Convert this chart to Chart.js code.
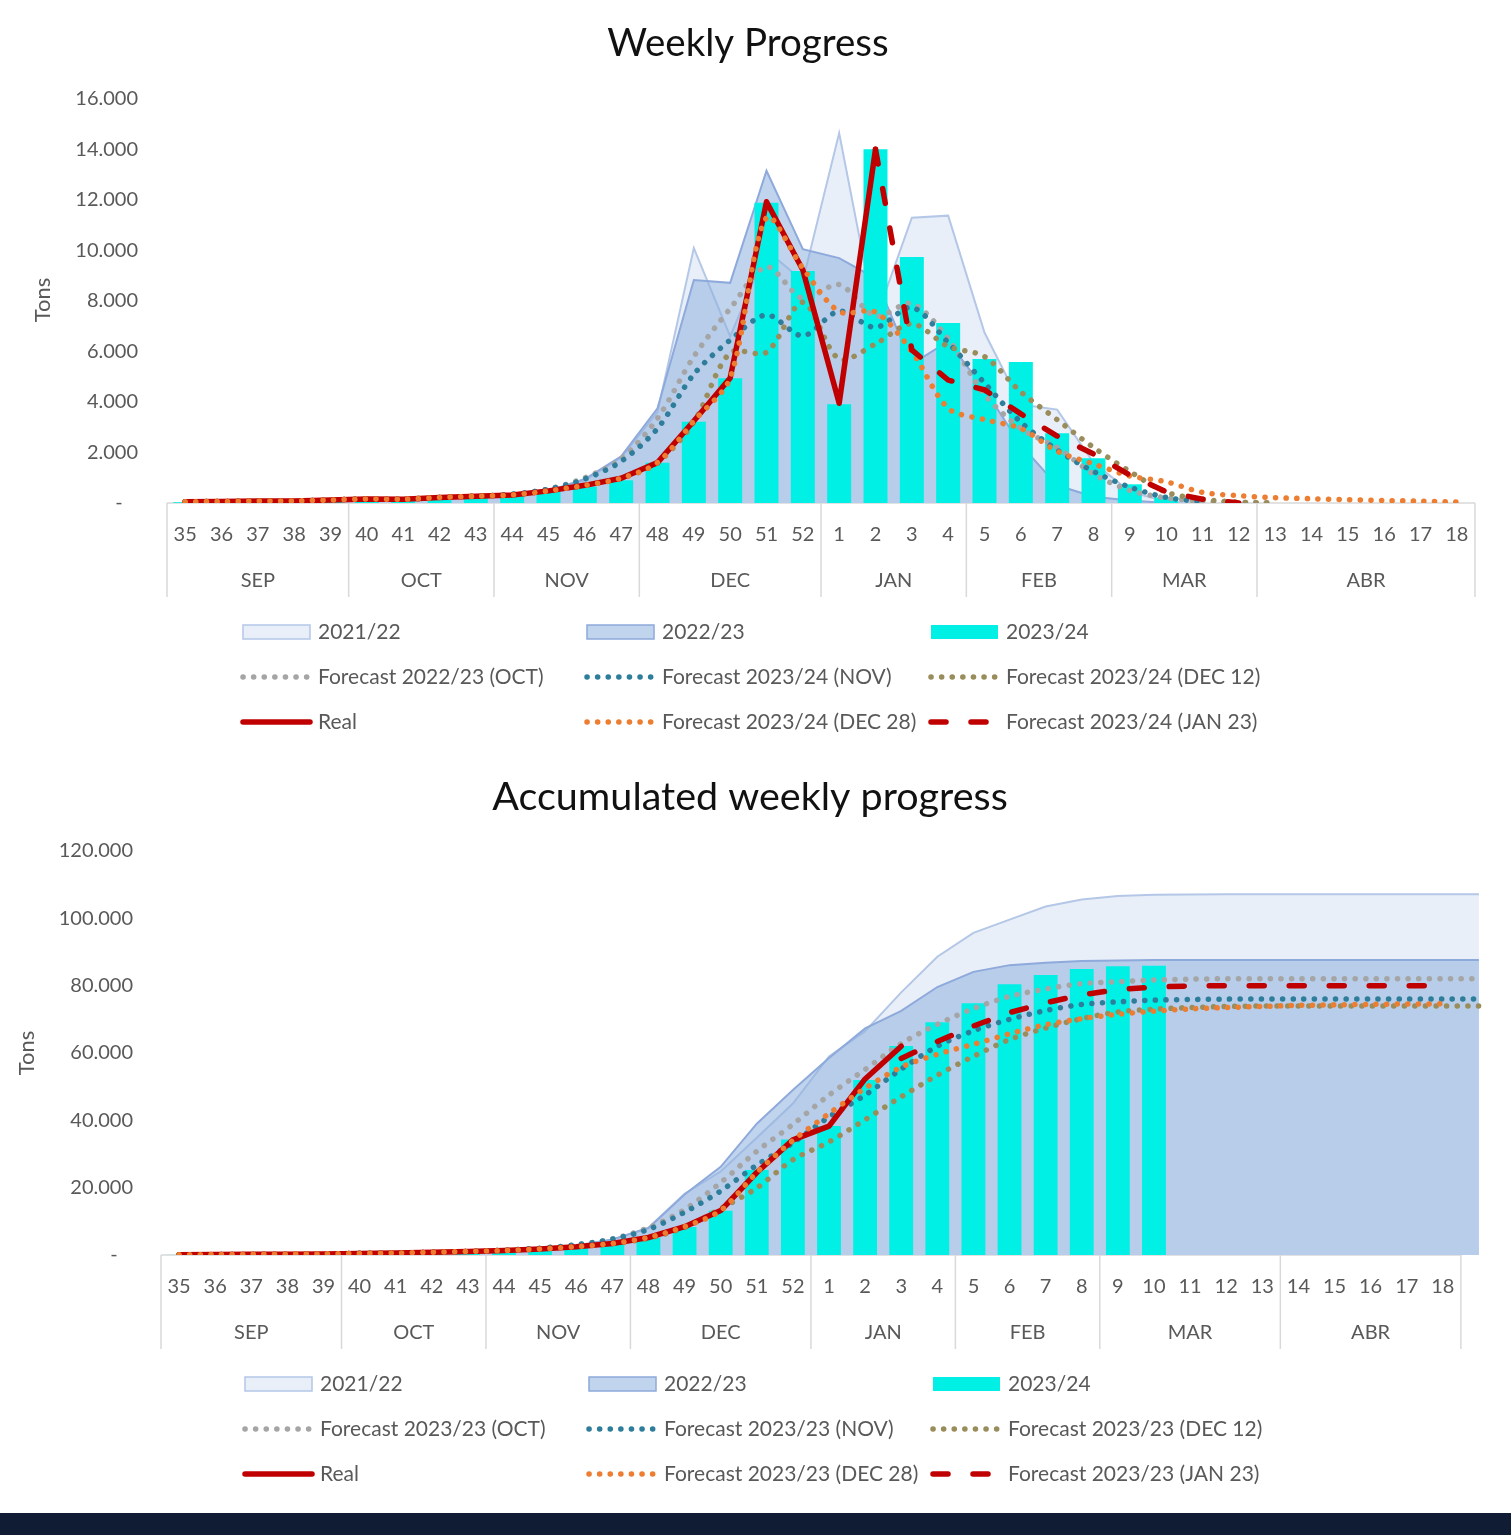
<!DOCTYPE html>
<html>
<head>
<meta charset="utf-8">
<title>Weekly Progress</title>
<script src="https://cdn.jsdelivr.net/npm/chart.js@4.4.1/dist/chart.umd.min.js"></script>
<style>
  html, body { margin: 0; padding: 0; background: #fff; }
  #wrap { position: relative; width: 1511px; height: 1535px; overflow: hidden; }
  canvas { position: absolute; left: 0; }
  #weekly { top: 0; }
  #accumulated { top: 750px; }
  #footer { position: absolute; left: 0; top: 1513px; width: 1511px; height: 22px; background: #0f1c33; }
</style>
</head>
<body>
<div id="wrap">
  <canvas id="weekly" width="1511" height="750"></canvas>
  <canvas id="accumulated" width="1511" height="763"></canvas>
  <div id="footer"></div>
</div>
<script>
// ---- Categories ----
const weeks = ["35","36","37","38","39","40","41","42","43","44","45","46","47","48","49","50","51","52",
               "1","2","3","4","5","6","7","8","9","10","11","12","13","14","15","16","17","18"];
const weeksAccum = weeks.concat([""]); // the areas run one step past week 18
const monthNames = ["SEP", "OCT", "NOV", "DEC", "JAN", "FEB", "MAR", "ABR"];
const monthWeeksTop = [5, 4, 4, 5, 4, 4, 4, 6];
const monthWeeksBottom = [5, 4, 4, 5, 4, 4, 5, 5];

// ---- Weekly progress (tons per week) ----
const weekly2122 = [30,50,60,60,90,130,130,180,250, 300,480,900,1800, 3600,10100,6600,10000,8800,
                    14650,7250,11300,11380, 6750,3900,3700,1600, 450,50,0,null, null,null,null,null,null,null];
const weekly2223 = [40,50,60,60,100,130,140,200,260, 320,480,950,1850, 3750,8830,8720,13160,10050,
                    9700,8900,5500,6400, 4500,2300,700,250, 100,0,null,null, null,null,null,null,null,null];
const weekly2324 = [30,50,60,50,90,140,120,200,250, 300,450,650,900, 1590,3220,4940,11890,9190,
                    3910,14010,9740,7130, 5700,5580,2760,1770, 740,225,null,null, null,null,null,null,null,null];
const weeklyOct = [50,60,80,80,120,160,150,220,270, 350,550,1000,1750, 3350,5800,7700,9350,8100,
                   8650,7400,7900,6500, 4300,2950,2200,1150, 500,200,80,30, 0,null,null,null,null,null];
const weeklyNov = [50,60,80,80,120,160,150,220,270, 350,550,950,1650, 2950,5100,6450,7450,6620,
                   7600,6950,7750,6350, 4750,3200,2100,1250, 630,220,50,null, null,null,null,null,null,null];
const weeklyDec12 = [50,60,80,80,120,160,150,220,270, 320,480,700,980, 1600,3200,5950,5970,7950,
                     5700,6300,7100,6200, 5800,4400,3300,2200, 1250,430,150,30, 0,null,null,null,null,null];
const weeklyReal = [50,60,80,80,120,160,150,220,270, 320,480,700,980, 1600,3250,4950,11930,9230,
                    3950,14010,null,null, null,null,null,null, null,null,null,null, null,null,null,null,null,null];
const weeklyDec28 = [50,60,80,80,120,160,150,220,270, 320,480,700,980, 1600,3250,4950,11300,9300,
                     7580,7560,6000,3750, 3300,2950,2050,1550, 1070,840,420,290, 210,170,130,100,70,40];
const weeklyJan23 = [null,null,null,null,null,null,null,null,null, null,null,null,null, null,null,null,null,null,
                     null,14010,6060,4870, 4480,3530,2650,1940, 1110,440,150,0, null,null,null,null,null,null];

// ---- Accumulated weekly progress (tons) ----
const accum2122 = [30,80,140,200,290,420,550,730,980, 1300,1800,2700,4500, 8100,18200,24800,34800,45000,
                   59000,66500,78000,88600, 95700,99600,103500,105600, 106600,107000,107100,107140,
                   107140,107140,107140,107140,107140,107140, 107140];
const accum2223 = [40,90,150,210,310,440,580,780,1040, 1360,1840,2790,4640, 8000,18000,26200,39000,49000,
                   58500,67300,72500,79600, 84100,86100,86800,87300, 87500,87600,87620,87620,
                   87620,87620,87620,87620,87620,87620, 87620];
const accum2324 = [30,80,140,190,280,420,540,740,990, 1290,1740,2390,3200, 5100,8300,13170,25250,34300,
                   38320,51980,62080,69110, 74760,80400,83170,84950, 85750,85940,null,null,
                   null,null,null,null,null,null, null];
const accumOct = [50,110,180,240,340,490,620,820,1080, 1430,1980,2980,4730, 8100,13500,21500,30800,38800,
                  47500,55100,62800,68500, 73200,76800,79000,80600, 81200,81700,81950,82050,
                  82070,82070,82070,82070,82070,82070, 82070];
const accumNov = [50,110,180,240,340,490,620,820,1080, 1450,2050,3050,4700, 7600,12700,19000,26700,33300,
                  41000,47500,55200,62000, 66600,70000,72600,74400, 75200,75700,75900,76000,
                  76040,76040,76040,76040,76040,76040, 76040];
const accumDec12 = [50,110,180,240,340,490,620,820,1080, 1380,1830,2480,3380, 4980,8200,13800,19900,28300,
                    33600,40200,47000,53400, 59000,64000,67400,70200, 72200,73000,73500,73800,
                    73960,73960,73960,73960,73960,73960, 73960];
const accumReal = [80,130,190,250,330,470,600,800,1050, 1350,1800,2450,3400, 5200,8400,13200,24500,34200,
                   38300,52300,62000,null, null,null,null,null, null,null,null,null,
                   null,null,null,null,null,null, null];
const accumDec28 = [80,130,190,250,330,470,600,800,1050, 1350,1800,2450,3400, 5200,8400,13200,24500,34000,
                    42000,49500,55800,59600, 62600,65700,68400,70200, 71500,72400,73100,73500,
                    73850,74150,74300,74450,74550,74600, null];
const accumJan23 = [null,null,null,null,null,null,null,null,null, null,null,null,null, null,null,null,null,null,
                    null,null,58400,63400, 68000,72000,74900,77300, 78800,79600,79900,80000,
                    80000,80000,80000,80000,80000,80000, null];

// ---- Legend labels ----
const labelsTop = ["2021/22", "2022/23", "2023/24",
                   "Forecast 2022/23 (OCT)", "Forecast 2023/24 (NOV)", "Forecast 2023/24 (DEC 12)",
                   "Real", "Forecast 2023/24 (DEC 28)", "Forecast 2023/24 (JAN 23)"];
const labelsBottom = ["2021/22", "2022/23", "2023/24",
                      "Forecast 2023/23 (OCT)", "Forecast 2023/23 (NOV)", "Forecast 2023/23 (DEC 12)",
                      "Real", "Forecast 2023/23 (DEC 28)", "Forecast 2023/23 (JAN 23)"];

const fontFamily = "Lato, 'Open Sans', sans-serif";
const textColor = "#595959";
Chart.defaults.font.family = fontFamily;

function tons(value) {
    if (value === 0) return "-   ";
    return (value / 1000).toFixed(0) + ".000";
}

function dotted(label, data, color, order) {
    return {
        type: "line", label: label, data: data, borderColor: color, borderWidth: 5.5,
        borderDash: [0.1, 10.5], borderCapStyle: "round", pointRadius: 0, tension: 0.3,
        fill: false, order: order
    };
}

function makeDatasets(labels, a2122, a2223, bars, oct, nov, dec12, real, dec28, jan23) {
    return [
        { type: "line", label: labels[0], data: a2122, fill: "origin", backgroundColor: "#E9EFF8",
          borderColor: "#B4C7E7", borderWidth: 2, pointRadius: 0, tension: 0, order: 9 },
        { type: "line", label: labels[1], data: a2223, fill: "origin", backgroundColor: "rgba(142,176,222,0.55)",
          borderColor: "#8EA9DB", borderWidth: 2, pointRadius: 0, tension: 0, order: 8 },
        { type: "bar", label: labels[2], data: bars, backgroundColor: "#00F0E6",
          barPercentage: 0.66, categoryPercentage: 1, order: 7 },
        dotted(labels[3], oct, "#A5A5A5", 6),
        dotted(labels[4], nov, "#2E7E9B", 5),
        dotted(labels[5], dec12, "#9A8D5C", 4),
        { type: "line", label: labels[6], data: real, borderColor: "#C00000", borderWidth: 5.5,
          borderCapStyle: "round", borderJoinStyle: "round", pointRadius: 0, tension: 0, fill: false, order: 3 },
        dotted(labels[7], dec28, "#ED7D31", 2),
        { type: "line", label: labels[8], data: jan23, borderColor: "#C00000", borderWidth: 5.5,
          borderDash: [15, 25], borderCapStyle: "round", pointRadius: 0, tension: 0, fill: false, order: 1 }
    ];
}

// Draws title, axis title, month groups and the 3x3 legend
const framePlugin = {
    id: "frame",
    beforeDatasetsDraw(chart, args, o) {
        const x = chart.scales.x, a = chart.chartArea, ctx = chart.ctx;
        const step = x.getPixelForValue(1) - x.getPixelForValue(0);
        const right = x.getPixelForValue(35) + step / 2;
        ctx.save();
        ctx.strokeStyle = "#D9D9D9";
        ctx.lineWidth = 1.5;
        ctx.beginPath();
        ctx.moveTo(a.left, a.bottom);
        ctx.lineTo(right, a.bottom);
        ctx.stroke();
        ctx.restore();
    },
    afterDraw(chart, args, o) {
        const ctx = chart.ctx, x = chart.scales.x, a = chart.chartArea;
        ctx.save();

        // title
        ctx.fillStyle = "#111111";
        ctx.font = o.titleSize + "px " + fontFamily;
        ctx.textAlign = "center";
        ctx.textBaseline = "middle";
        ctx.fillText(o.title, o.titleX, o.titleY);

        // y axis title
        ctx.save();
        ctx.translate(o.yTitleX, o.yTitleY);
        ctx.rotate(-Math.PI / 2);
        ctx.fillStyle = textColor;
        ctx.font = "22px " + fontFamily;
        ctx.fillText("Tons", 0, 0);
        ctx.restore();

        // month groups
        const step = x.getPixelForValue(1) - x.getPixelForValue(0);
        ctx.strokeStyle = "#D9D9D9";
        ctx.lineWidth = 1.5;
        ctx.fillStyle = textColor;
        ctx.font = "20px " + fontFamily;
        let start = 0;
        o.groups.forEach((count, g) => {
            const left = x.getPixelForValue(start) - step / 2;
            const right = x.getPixelForValue(start + count - 1) + step / 2;
            ctx.beginPath();
            ctx.moveTo(left, a.bottom);
            ctx.lineTo(left, a.bottom + 94);
            if (g === o.groups.length - 1) {
                ctx.moveTo(right, a.bottom);
                ctx.lineTo(right, a.bottom + 94);
            }
            ctx.stroke();
            ctx.fillText(monthNames[g], (left + right) / 2, a.bottom + 78);
            start += count;
        });

        // legend
        ctx.textAlign = "left";
        ctx.font = "21px " + fontFamily;
        chart.data.datasets.forEach((ds, i) => {
            const sx = o.legendCols[i % 3], sy = o.legendRows[Math.floor(i / 3)];
            ctx.save();
            if (ds.type === "bar") {
                ctx.fillStyle = ds.backgroundColor;
                ctx.fillRect(sx + 2, sy - 7, 67, 14);
            } else if (ds.fill) {
                ctx.fillStyle = ds.backgroundColor;
                ctx.fillRect(sx + 2, sy - 7, 67, 14);
                ctx.strokeStyle = ds.borderColor;
                ctx.lineWidth = 1.5;
                ctx.strokeRect(sx + 2, sy - 7, 67, 14);
            } else {
                ctx.strokeStyle = ds.borderColor;
                ctx.lineWidth = ds.borderWidth;
                ctx.lineCap = ds.borderCapStyle || "butt";
                ctx.setLineDash(ds.borderDash || []);
                ctx.beginPath();
                ctx.moveTo(sx + 2, sy);
                ctx.lineTo(sx + 69, sy);
                ctx.stroke();
            }
            ctx.restore();
            ctx.fillStyle = textColor;
            ctx.fillText(ds.label, sx + 77, sy);
        });
        ctx.restore();
    }
};

function buildChart(canvasId, labels, datasets, s) {
    return new Chart(document.getElementById(canvasId), {
        type: "bar",
        data: { labels: labels, datasets: datasets },
        plugins: [framePlugin],
        options: {
            responsive: false,
            animation: false,
            devicePixelRatio: 1,
            events: [],
            layout: { padding: { left: 0, right: s.rightPad, top: s.topPad, bottom: 0 } },
            scales: {
                x: {
                    type: "category",
                    offset: true,
                    grid: { display: false, drawTicks: false },
                    border: { display: false },
                    ticks: { color: textColor, font: { size: 20 }, padding: 20, autoSkip: false, maxRotation: 0 },
                    afterFit(scale) { scale.height = s.xHeight; }
                },
                y: {
                    min: 0,
                    max: s.yMax,
                    grid: { display: false, drawTicks: false },
                    border: { display: false },
                    ticks: { stepSize: s.yStep, color: textColor, font: { size: 20 }, padding: s.yPad, callback: tons },
                    afterFit(scale) { scale.width = s.yWidth; }
                }
            },
            plugins: {
                legend: { display: false },
                tooltip: { enabled: false },
                frame: s.frame
            }
        }
    });
}

buildChart("weekly", weeks,
    makeDatasets(labelsTop, weekly2122, weekly2223, weekly2324, weeklyOct, weeklyNov, weeklyDec12,
                 weeklyReal, weeklyDec28, weeklyJan23),
    {
        rightPad: 36, topPad: 99, xHeight: 247, yWidth: 167, yPad: 29, yMax: 16000, yStep: 2000,
        frame: {
            title: "Weekly Progress", titleSize: 38.5, titleX: 748, titleY: 44, yTitleX: 43, yTitleY: 300,
            groups: monthWeeksTop, legendCols: [241, 585, 929], legendRows: [632, 677, 722]
        }
    });

buildChart("accumulated", weeksAccum,
    makeDatasets(labelsBottom, accum2122, accum2223, accum2324, accumOct, accumNov, accumDec12,
                 accumReal, accumDec28, accumJan23),
    {
        rightPad: 14, topPad: 101, xHeight: 258, yWidth: 161, yPad: 28, yMax: 120000, yStep: 20000,
        frame: {
            title: "Accumulated weekly progress", titleSize: 39.5, titleX: 750, titleY: 47, yTitleX: 27, yTitleY: 303,
            groups: monthWeeksBottom, legendCols: [243, 587, 931], legendRows: [634, 679, 724]
        }
    });
</script>
</body>
</html>
